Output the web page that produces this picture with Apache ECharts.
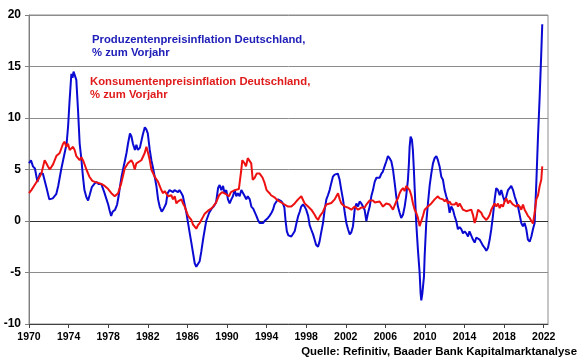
<!DOCTYPE html>
<html><head><meta charset="utf-8">
<script src="https://cdn.jsdelivr.net/npm/echarts@6/dist/echarts.min.js"></script>
<style>html,body{margin:0;padding:0;background:#fff}#c{width:580px;height:359px}</style>
</head><body><div id="c"></div>
<script>
// Produzentenpreisinflation (blue)
const ppiYears = [1970.0,1970.2,1970.4,1970.6,1970.85,1971.1,1971.4,1971.75,1972.05,1972.4,1972.75,1972.95,1973.25,1973.6,1973.8,1973.95,1974.1,1974.28,1974.4,1974.5,1974.62,1974.78,1974.95,1975.12,1975.3,1975.45,1975.6,1975.8,1975.97,1976.15,1976.35,1976.6,1976.8,1977.0,1977.3,1977.6,1977.8,1978.0,1978.15,1978.3,1978.45,1978.7,1978.9,1979.05,1979.2,1979.35,1979.5,1979.7,1979.85,1980.0,1980.2,1980.35,1980.5,1980.7,1980.85,1981.0,1981.2,1981.35,1981.5,1981.7,1981.85,1982.0,1982.2,1982.36,1982.5,1982.7,1982.87,1983.04,1983.2,1983.4,1983.55,1983.7,1983.85,1984.0,1984.2,1984.4,1984.55,1984.7,1984.9,1985.05,1985.2,1985.4,1985.55,1985.7,1985.9,1986.07,1986.24,1986.4,1986.57,1986.74,1986.9,1987.07,1987.24,1987.4,1987.6,1987.9,1988.2,1988.45,1988.65,1988.9,1989.1,1989.26,1989.43,1989.6,1989.76,1989.93,1990.1,1990.27,1990.44,1990.6,1990.78,1990.94,1991.1,1991.28,1991.45,1991.6,1991.8,1991.95,1992.1,1992.3,1992.46,1992.65,1992.8,1992.97,1993.13,1993.3,1993.47,1993.64,1993.8,1993.97,1994.14,1994.3,1994.5,1994.65,1994.8,1995.0,1995.15,1995.32,1995.5,1995.65,1995.8,1995.92,1996.05,1996.2,1996.5,1996.66,1996.84,1997.0,1997.2,1997.35,1997.5,1997.68,1997.85,1998.0,1998.2,1998.35,1998.5,1998.7,1998.85,1999.0,1999.2,1999.35,1999.5,1999.7,1999.87,2000.04,2000.2,2000.37,2000.54,2000.7,2000.88,2001.05,2001.2,2001.38,2001.55,2001.72,2001.9,2002.06,2002.23,2002.4,2002.56,2002.73,2002.9,2003.07,2003.24,2003.4,2003.57,2003.74,2003.9,2004.08,2004.25,2004.42,2004.58,2004.75,2004.92,2005.1,2005.25,2005.42,2005.6,2005.75,2005.92,2006.1,2006.26,2006.43,2006.6,2006.77,2006.94,2007.1,2007.27,2007.44,2007.6,2007.78,2007.95,2008.1,2008.28,2008.38,2008.45,2008.55,2008.68,2008.78,2008.88,2008.95,2009.12,2009.29,2009.46,2009.56,2009.63,2009.73,2009.8,2009.9,2009.97,2010.13,2010.3,2010.47,2010.64,2010.81,2010.98,2011.15,2011.31,2011.48,2011.65,2011.82,2011.99,2012.15,2012.32,2012.49,2012.66,2012.83,2012.99,2013.16,2013.33,2013.5,2013.67,2013.84,2014.0,2014.18,2014.35,2014.5,2014.68,2014.85,2015.02,2015.19,2015.36,2015.52,2015.7,2015.86,2016.03,2016.2,2016.37,2016.54,2016.7,2016.87,2017.04,2017.2,2017.38,2017.55,2017.71,2017.88,2018.05,2018.22,2018.39,2018.55,2018.72,2018.9,2019.06,2019.23,2019.4,2019.57,2019.73,2019.9,2020.07,2020.24,2020.4,2020.58,2020.75,2020.91,2021.08,2021.25,2021.42,2021.59,2021.75,2021.85];
const ppiValues = [5.6,5.9,5.3,5.1,3.8,4.6,4.6,3.3,2.1,2.2,2.6,3.4,5.0,6.6,7.5,9.2,11.7,14.3,13.9,14.5,14.6,13.7,10.8,7.5,5.9,4.3,3.0,2.3,2.0,2.6,3.3,3.6,3.8,3.6,3.6,2.8,2.2,1.6,1.0,0.5,0.9,1.1,1.6,2.4,3.4,4.3,5.0,5.9,6.6,7.5,8.5,8.2,7.5,6.9,7.4,6.9,7.1,7.2,8.4,9.1,8.9,8.5,6.9,5.9,5.3,4.3,3.4,2.1,1.4,0.9,1.1,1.4,1.7,2.7,3.0,3.0,2.8,3.0,3.0,2.8,3.0,2.7,2.4,1.7,0.8,-0.2,-1.2,-2.1,-3.1,-4.1,-4.45,-4.3,-3.9,-3.0,-1.7,0.0,0.8,1.2,1.4,1.8,3.2,3.5,3.0,3.4,2.7,3.0,2.1,1.7,2.1,2.4,3.0,2.4,2.7,2.4,3.0,2.9,2.4,2.1,2.4,2.1,1.4,1.2,1.1,0.5,0.1,-0.2,-0.35,-0.2,0.0,0.1,0.3,0.5,0.8,1.1,1.6,1.9,2.1,2.1,1.9,1.7,1.3,0.0,-1.0,-1.4,-1.5,-1.4,-1.0,-0.3,0.5,0.9,1.4,1.6,1.4,1.1,0.5,-0.4,-0.8,-1.3,-1.8,-2.3,-2.5,-2.0,-1.2,-0.2,1.1,2.1,2.5,3.0,3.7,4.3,4.5,4.6,4.6,4.0,3.0,2.1,0.8,-0.2,-0.8,-1.3,-1.1,-0.5,1.1,1.7,1.4,1.9,1.7,1.4,1.1,0.0,0.8,1.4,2.4,3.0,3.8,4.2,4.3,4.2,4.6,4.8,5.3,5.8,6.3,6.1,5.8,5.0,3.7,2.4,1.4,0.8,0.3,0.6,1.4,2.4,4.0,5.6,7.2,8.2,7.9,6.9,5.0,3.4,-0.2,-2.8,-5.0,-7.0,-7.7,-7.1,-7.0,-5.4,-3.4,-0.2,1.7,3.4,4.6,5.6,6.1,6.3,5.9,5.3,4.3,4.0,3.0,2.4,1.9,0.8,1.4,1.1,0.5,0.0,-0.8,-0.6,-0.8,-1.2,-1.0,-1.2,-1.5,-1.0,-1.1,-1.8,-2.1,-1.6,-1.5,-1.8,-2.1,-2.4,-2.6,-2.9,-2.6,-1.8,-0.8,0.5,2.1,3.2,3.0,2.5,3.0,2.4,1.9,2.4,3.0,3.2,3.4,3.0,2.4,2.4,1.4,0.6,-0.2,-0.5,-0.2,-0.8,-1.8,-2.0,-1.5,-0.8,-0.2,3.7,8.2,12.1,16.3,19.1];

// Konsumentenpreisinflation (red)
const cpiYears = [1970.0,1970.24,1970.57,1970.91,1971.25,1971.58,1971.75,1971.92,1972.1,1972.43,1972.76,1973.1,1973.44,1973.6,1973.77,1973.94,1974.11,1974.28,1974.45,1974.61,1974.78,1975.12,1975.29,1975.5,1975.8,1976.1,1976.4,1976.64,1977.0,1977.3,1977.65,1978.0,1978.32,1978.66,1979.0,1979.33,1979.67,1980.0,1980.34,1980.51,1980.68,1980.85,1981.0,1981.35,1981.69,1981.86,1982.03,1982.2,1982.36,1982.7,1983.04,1983.37,1983.54,1983.71,1984.05,1984.38,1984.55,1984.72,1984.89,1985.06,1985.4,1985.56,1985.73,1986.07,1986.4,1986.57,1986.74,1986.9,1987.07,1987.24,1987.41,1987.58,1987.75,1988.09,1988.4,1988.6,1988.9,1989.2,1989.5,1989.9,1990.2,1990.4,1990.6,1990.8,1991.0,1991.2,1991.35,1991.45,1991.55,1991.65,1991.78,1991.92,1992.1,1992.3,1992.45,1992.6,1992.8,1993.0,1993.3,1993.45,1993.6,1993.8,1994.0,1994.15,1994.3,1994.45,1994.65,1994.8,1995.0,1995.3,1995.65,1995.83,1996.17,1996.5,1996.84,1997.18,1997.51,1997.68,1997.85,1998.02,1998.19,1998.52,1998.86,1999.03,1999.2,1999.37,1999.53,1999.7,1999.87,2000.04,2000.2,2000.54,2000.88,2001.05,2001.22,2001.39,2001.55,2001.72,2001.89,2002.23,2002.56,2002.9,2003.24,2003.57,2003.91,2004.08,2004.25,2004.42,2004.58,2004.75,2004.92,2005.09,2005.42,2005.76,2006.09,2006.43,2006.77,2007.1,2007.27,2007.44,2007.61,2007.78,2007.95,2008.11,2008.28,2008.45,2008.62,2008.79,2008.96,2009.12,2009.29,2009.46,2009.63,2009.8,2009.97,2010.13,2010.3,2010.47,2010.64,2010.81,2010.98,2011.14,2011.31,2011.48,2011.65,2011.82,2011.99,2012.15,2012.32,2012.49,2012.66,2012.83,2013.0,2013.17,2013.34,2013.5,2013.67,2013.84,2014.0,2014.18,2014.35,2014.68,2014.85,2015.02,2015.19,2015.36,2015.53,2015.69,2015.86,2016.03,2016.2,2016.37,2016.54,2016.7,2016.87,2017.04,2017.21,2017.38,2017.55,2017.71,2017.88,2018.05,2018.22,2018.39,2018.56,2018.72,2018.89,2019.06,2019.23,2019.4,2019.57,2019.73,2019.9,2020.07,2020.24,2020.4,2020.58,2020.75,2020.91,2021.08,2021.25,2021.42,2021.59,2021.75,2021.85];
const cpiValues = [2.7,3.0,3.5,4.0,4.6,5.9,5.6,5.3,5.0,5.5,6.3,6.6,7.5,7.7,7.2,7.5,6.9,7.0,7.2,6.9,6.3,5.9,6.2,5.8,5.0,4.3,3.9,3.8,3.7,3.6,3.4,3.1,2.7,2.4,2.7,3.7,5.1,5.6,5.9,5.6,5.0,5.6,5.7,5.9,6.6,7.2,6.6,5.9,5.0,4.3,3.8,3.0,2.7,2.9,2.4,2.5,2.1,2.4,1.7,1.9,2.1,1.7,1.4,0.5,0.1,-0.35,-0.5,-0.75,-0.4,-0.2,0.1,0.4,0.7,1.0,1.2,1.4,1.8,2.5,2.8,2.6,2.4,2.8,2.9,3.0,2.9,3.1,3.2,5.0,5.9,6.0,5.6,5.3,6.1,6.2,5.6,4.0,4.2,4.6,4.6,4.4,4.2,3.7,3.0,2.9,2.7,2.5,2.4,2.3,2.1,1.9,1.7,1.6,1.4,1.4,1.7,2.1,2.4,2.25,1.7,1.6,1.4,1.1,0.6,0.3,0.1,0.45,0.6,0.9,1.3,1.6,1.75,1.75,2.1,2.4,2.7,2.1,1.7,1.6,1.4,1.3,1.1,1.4,1.1,1.3,1.3,1.6,1.5,2.0,1.9,2.0,1.8,1.7,1.9,1.4,1.7,1.6,1.1,1.9,2.2,2.7,3.0,3.2,2.9,3.4,3.2,3.0,2.5,1.7,1.1,0.8,0.3,-0.5,0.0,0.5,1.1,1.1,1.4,1.25,1.7,1.9,2.1,2.2,2.4,2.2,2.1,2.1,1.9,2.1,1.7,1.9,1.6,1.7,1.6,1.8,1.4,1.7,1.4,1.1,1.25,0.95,0.8,1.1,0.6,-0.2,0.3,1.1,0.95,0.8,0.45,0.3,0.1,0.3,0.6,1.1,1.4,1.7,1.4,1.7,1.25,1.6,1.4,1.9,2.2,1.7,2.0,1.9,1.6,1.7,1.4,1.6,1.4,1.1,1.6,1.1,0.8,0.5,0.3,0.0,-0.25,0.8,2.1,2.5,3.4,4.0,5.3];

const xTickYears = [1970,1974,1978,1982,1986,1990,1994,1998,2002,2006,2010,2014,2018,2022];
const yMin = -10, yMax = 20, yStep = 5;

const ppiTitle = 'Produzentenpreisinflation Deutschland,\n% zum Vorjahr';
const cpiTitle = 'Konsumentenpreisinflation Deutschland,\n% zum Vorjahr';
const sourceText = 'Quelle: Refinitiv, Baader Bank Kapitalmarktanalyse';

const FONT = 'Arial, "Liberation Sans", sans-serif';
const pairs = (xs, ys) => xs.map((x, i) => [x, ys[i]]);

const chart = echarts.init(document.getElementById('c'), null, {renderer: 'canvas'});
chart.setOption({
  animation: false,
  backgroundColor: '#ffffff',
  grid: {left: 29, top: 15, width: 519, height: 309, show: true, borderColor: '#8c8c8c', borderWidth: 1, backgroundColor: 'transparent'},
  xAxis: {
    type: 'value', min: 1970, max: 2022.43, interval: 4,
    axisLine: {show: true, onZero: false, lineStyle: {color: '#404040', width: 1}},
    axisTick: {show: true, length: 4, customValues: xTickYears, lineStyle: {color: '#404040'}},
    axisLabel: {customValues: xTickYears, fontSize: 10.5, fontWeight: 'bold', color: '#000', fontFamily: FONT, margin: 8, formatter: v => String(Math.round(v))},
    splitLine: {show: false}
  },
  yAxis: {
    type: 'value', min: yMin, max: yMax, interval: yStep,
    axisLine: {show: true, lineStyle: {color: '#808080'}},
    axisTick: {show: true, length: 4, lineStyle: {color: '#808080'}},
    axisLabel: {fontSize: 12, fontWeight: 'bold', color: '#000', fontFamily: FONT, margin: 8},
    splitLine: {show: true, lineStyle: {color: ['#8c8c8c', '#8c8c8c', '#303030', '#8c8c8c', '#8c8c8c', '#8c8c8c', '#8c8c8c'], width: 1}}
  },
  series: [
    {type: 'line', name: 'PPI', data: pairs(ppiYears, ppiValues), showSymbol: false, symbol: 'none', lineStyle: {color: '#0a0ad2', width: 2}, itemStyle: {color: '#0a0ad2'}},
    {type: 'line', name: 'CPI', data: pairs(cpiYears, cpiValues), showSymbol: false, symbol: 'none', lineStyle: {color: '#ee1111', width: 2}, itemStyle: {color: '#ee1111'}}
  ],
  graphic: [
    {type: 'text', x: 92, y: 33, style: {text: ppiTitle, fill: '#2020b8', fontSize: 11.3, fontWeight: 'bold', fontFamily: FONT, lineHeight: 13, verticalAlign: 'top', align: 'left'}},
    {type: 'text', x: 90, y: 75, style: {text: cpiTitle, fill: '#e01b1b', fontSize: 11.3, fontWeight: 'bold', fontFamily: FONT, lineHeight: 13, verticalAlign: 'top', align: 'left'}},
    {type: 'text', x: 577, y: 352, style: {text: sourceText, fill: '#000', fontSize: 11.4, fontWeight: 'bold', fontFamily: FONT, verticalAlign: 'middle', align: 'right'}}
  ]
});
</script>
</body></html>
